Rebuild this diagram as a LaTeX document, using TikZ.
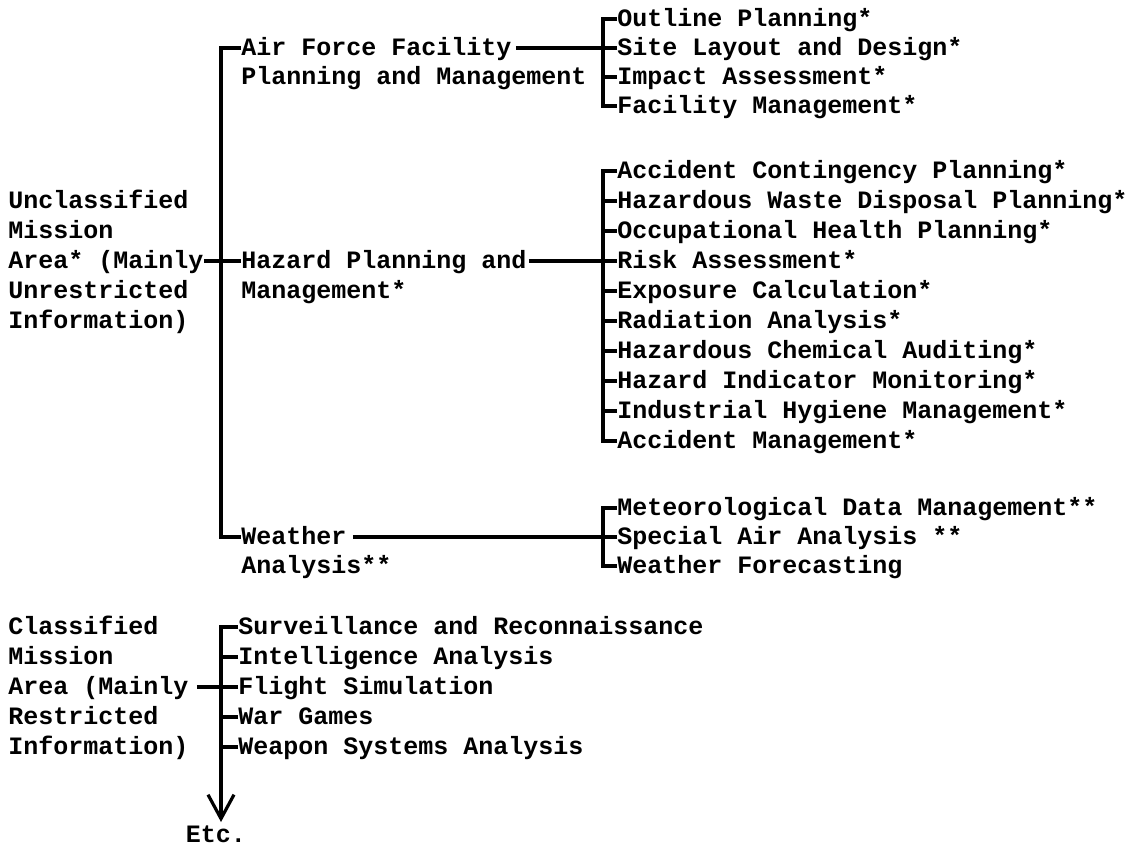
\documentclass[tikz,border=0pt]{standalone}
\usepackage{fontspec}
\setmonofont{Liberation Mono}
\usetikzlibrary{arrows.meta}

\begin{document}
\begin{tikzpicture}[x=.5pt,y=-.5pt,
    lbl/.style={anchor=west,inner sep=0,text height=7.2pt,text depth=0pt,
      font=\ttfamily\bfseries\fontsize{12.5}{15}\selectfont},
    wire/.style={line width=1.6pt}]
  \path[use as bounding box] (0,0) rectangle (1141,848);
  % mission areas
  \foreach \t [count=\i] in {Unclassified,Mission,{Area* (Mainly},Unrestricted,Information)}
    \node[lbl] (un\i) at (8,171+30*\i) {\t};
  \foreach \t [count=\i] in {Classified,Mission,{Area (Mainly},Restricted,Information)}
    \node[lbl] (cl\i) at (8,597+30*\i) {\t};
  % functional areas
  \node[lbl] (air) at (241,48) {Air Force Facility};
  \node[lbl] (airb) at (241,77) {Planning and Management};
  \node[lbl] (haz) at (241,261) {Hazard Planning and};
  \node[lbl] (hazb) at (241,291) {Management*};
  \node[lbl] (wea) at (241,537) {Weather};
  \node[lbl] (weab) at (241,566) {Analysis**};
  % applications
  \foreach \t [count=\i] in {Outline Planning*,Site Layout and Design*,
      Impact Assessment*,Facility Management*}
    \node[lbl] (ai\i) at (617,-10+29*\i) {\t};
  \foreach \t [count=\i] in {Accident Contingency Planning*,
      Hazardous Waste Disposal Planning*,Occupational Health Planning*,
      Risk Assessment*,Exposure Calculation*,Radiation Analysis*,
      Hazardous Chemical Auditing*,Hazard Indicator Monitoring*,
      Industrial Hygiene Management*,Accident Management*}
    \node[lbl] (hz\i) at (617,141+30*\i) {\t};
  \foreach \t [count=\i] in {Meteorological Data Management**,
      Special Air Analysis **,Weather Forecasting}
    \node[lbl] (we\i) at (617,479+29*\i) {\t};
  \foreach \t [count=\i] in {Surveillance and Reconnaissance,
      Intelligence Analysis,Flight Simulation,War Games,Weapon Systems Analysis}
    \node[lbl] (cs\i) at (238,597+30*\i) {\t};
  \node[lbl,anchor=north] (etc) at (216,828) {Etc.};
  % bracket positions
  \coordinate (mainbus) at (221,0);
  \coordinate (afbus) at (603,0);
  \coordinate (hzbus) at (603,0);
  \coordinate (webus) at (603,0);
  % brackets
  \draw[wire] (air.west) -- (air.west -| mainbus) -- (wea.west -| mainbus) -- (wea.west);
  \draw[wire] (un3.east) -- (haz.west);
  \draw[wire] (ai1.west) -- (ai1.west -| afbus) -- (ai4.west -| afbus) -- (ai4.west);
  \foreach \i in {2,3}
    \draw[wire] (ai\i.west) -- (ai\i.west -| afbus);
  \draw[wire,shorten <=2pt] (air.east) -- (ai2.west -| afbus);
  \draw[wire] (hz1.west) -- (hz1.west -| hzbus) -- (hz10.west -| hzbus) -- (hz10.west);
  \foreach \i in {2,...,9}
    \draw[wire] (hz\i.west) -- (hz\i.west -| hzbus);
  \draw[wire,shorten <=1pt] (haz.east) -- (hz4.west -| hzbus);
  \draw[wire] (we1.west) -- (we1.west -| webus) -- (we3.west -| webus) -- (we3.west);
  \draw[wire] (we2.west) -- (we2.west -| webus);
  \draw[wire,shorten <=3pt] (wea.east) -- (we2.west -| webus);
  \draw[wire,shorten >=3pt,-{Straight Barb[length=12pt,width=13pt]}]
    (cs1.west) -- (cs1.west -| mainbus) -- (mainbus |- etc.north);
  \foreach \i in {2,...,5}
    \draw[wire] (cs\i.west) -- (cs\i.west -| mainbus);
  \draw[wire,shorten <=4pt] (cl3.east) -- (cs3.west);
\end{tikzpicture}
\end{document}
